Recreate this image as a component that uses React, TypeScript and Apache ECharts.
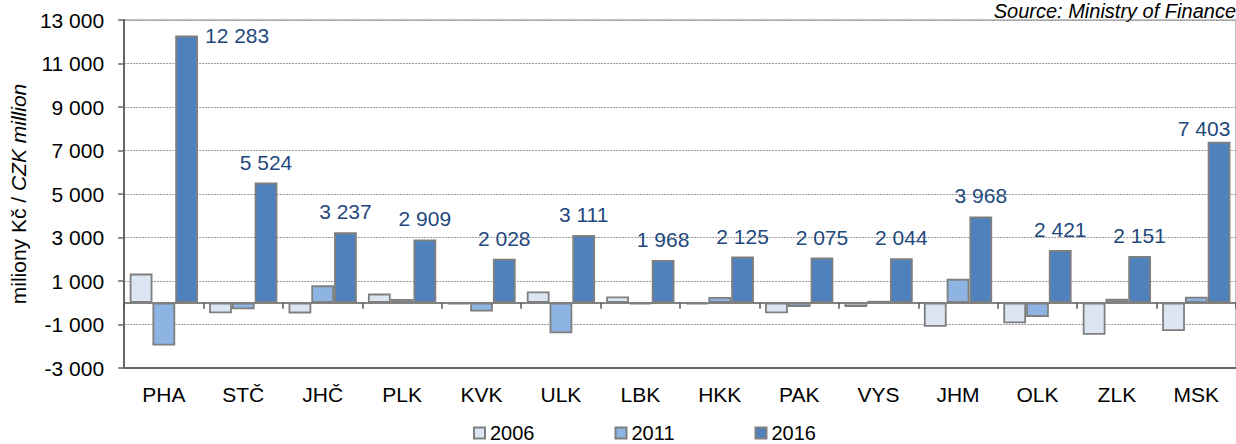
import React, { useEffect, useRef } from "react";
import * as echarts from "echarts";

const categories = ["PHA", "STČ", "JHČ", "PLK", "KVK", "ULK", "LBK", "HKK", "PAK", "VYS", "JHM", "OLK", "ZLK", "MSK"];
const seriesNames = ["2006", "2011", "2016"];
const values2006 = [1340, -480, -490, 420, -80, 520, 290, -80, -480, -190, -1100, -940, -1470, -1300];
const values2011 = [-1970, -300, 800, 170, -400, -1400, -80, 270, -190, 90, 1100, -650, 180, 280];
const values2016 = [12283, 5524, 3237, 2909, 2028, 3111, 1968, 2125, 2075, 2044, 3968, 2421, 2151, 7403];
const yMin = -3000;
const yMax = 13000;
const yInterval = 2000;
const axisName = ["miliony Kč / ", "CZK million"];
const sourceText = "Source: Ministry of Finance";

const FONT = "'Liberation Sans', Arial, sans-serif";
const colors = ["#DCE6F2", "#8EB4E3", "#4F81BD"];

const fmt = (v: number) => {
  const s = Math.abs(Math.round(v)).toString().replace(/\B(?=(\d{3})+(?!\d))/g, " ");
  return (v < 0 ? "-" : "") + s;
};

export default function App() {
  const ref = useRef<HTMLDivElement>(null);
  useEffect(() => {
    if (!ref.current) return;
    const chart = echarts.init(ref.current, null, { renderer: "svg" });
    const barStyle = (i: number) => ({
      color: colors[i],
      borderColor: "#7f7f7f",
      borderWidth: 1.8,
    });
    const data2016 = values2016.map((v, i) => {
      if (i === 0) {
        return {
          value: v,
          label: { position: ["100%", 0], align: "left", verticalAlign: "middle", offset: [7, 0] },
        };
      }
      if (i === values2016.length - 1) {
        return { value: v, label: { offset: [-15, 7] } };
      }
      return v;
    });
    chart.setOption({
      animation: false,
      textStyle: { fontFamily: FONT },
      grid: {
        left: 123,
        right: -11,
        top: 20,
        bottom: 76,
        show: true,
        borderColor: "#8a8a8a",
        borderWidth: 1,
        backgroundColor: "transparent",
      },
      legend: {
        data: seriesNames,
        left: 468,
        top: 418,
        itemGap: 80,
        itemWidth: 11,
        itemHeight: 11,
        icon: "rect",
        itemStyle: { borderColor: "#808080", borderWidth: 2 },
        textStyle: { fontSize: 20, color: "#000", fontFamily: FONT },
      },
      graphic: [
        {
          type: "text",
          right: 0,
          top: 1,
          style: {
            text: sourceText,
            font: `italic 20px ${FONT}`,
            fill: "#000",
          },
        },
      ],
      xAxis: [
        {
          type: "category",
          data: categories,
          position: "bottom",
          axisLine: { onZero: false, lineStyle: { color: "#666", width: 2 } },
          axisTick: { show: false },
          axisLabel: { fontSize: 21, color: "#000", margin: 16, fontFamily: FONT },
        },
        {
          type: "category",
          data: categories,
          position: "top",
          axisLine: { onZero: true, onZeroAxisIndex: 0, lineStyle: { color: "#595959", width: 1.5 } },
          axisTick: { show: true, inside: true, length: 6, lineStyle: { color: "#595959", width: 1.5 } },
          axisLabel: { show: false },
          splitLine: { show: false },
        },
      ],
      yAxis: {
        type: "value",
        min: yMin,
        max: yMax,
        interval: yInterval,
        name: `{a|${axisName[0]}}{b|${axisName[1]}}`,
        nameLocation: "middle",
        nameGap: 95,
        nameTextStyle: {
          color: "#000",
          rich: {
            a: { fontSize: 21, fontFamily: FONT, color: "#000" },
            b: { fontSize: 21, fontFamily: FONT, fontStyle: "italic", color: "#000" },
          },
        },
        axisLine: { show: true, lineStyle: { color: "#666", width: 2 } },
        axisTick: { show: true, length: 6, lineStyle: { color: "#666", width: 1.5 } },
        axisLabel: { fontSize: 21, color: "#000", margin: 20, formatter: (v: number) => fmt(v), fontFamily: FONT },
        splitLine: { show: true, lineStyle: { color: "#999", type: [2, 1], width: 1 } },
      },
      series: [
        {
          name: seriesNames[0],
          type: "bar",
          data: values2006,
          itemStyle: barStyle(0),
          barGap: "0%",
          barCategoryGap: "14%",
        },
        {
          name: seriesNames[1],
          type: "bar",
          data: values2011,
          itemStyle: barStyle(1),
          barGap: "0%",
          barCategoryGap: "14%",
        },
        {
          name: seriesNames[2],
          type: "bar",
          data: data2016,
          itemStyle: barStyle(2),
          barGap: "0%",
          barCategoryGap: "14%",
          label: {
            show: true,
            position: "top",
            distance: 10,
            fontSize: 21,
            color: "#1F497D",
            fontFamily: FONT,
            formatter: (p: any) => fmt(p.value),
          },
        },
      ],
    });
    return () => chart.dispose();
  }, []);
  return (
    <div
      ref={ref}
      style={{ position: "fixed", left: 0, top: 0, width: 1236, height: 444, background: "#fff" }}
    />
  );
}
